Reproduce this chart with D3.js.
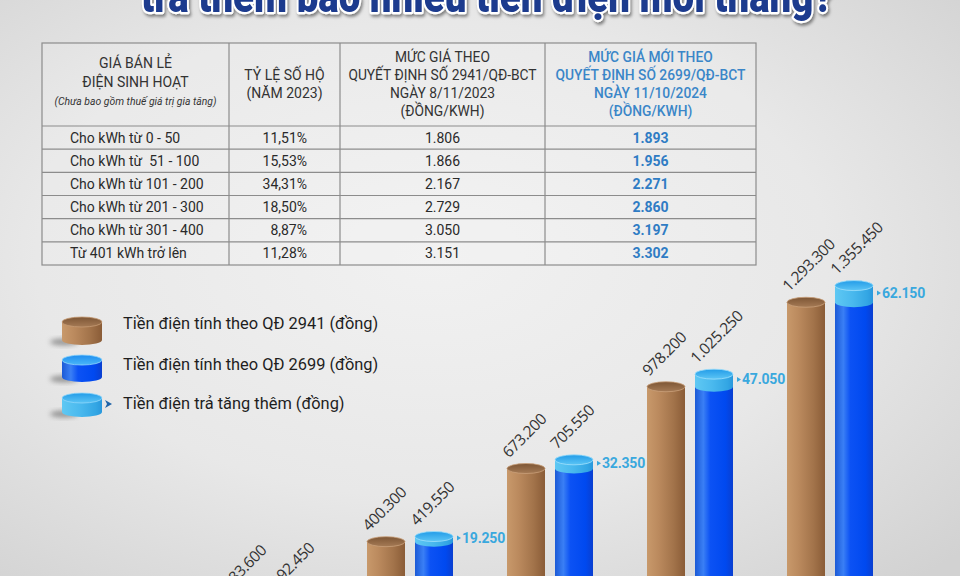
<!DOCTYPE html>
<html><head><meta charset="utf-8">
<script src="https://cdn.jsdelivr.net/npm/d3@7/dist/d3.min.js"></script>
<style>html,body{margin:0;padding:0;background:#e6e6e6;}svg{display:block;}</style>
</head><body>
<script>
// ---------- DATA ----------
const titleText = "trả thêm bao nhiêu tiền điện mỗi tháng?";
const categories = ["100 kWh", "200 kWh", "300 kWh", "400 kWh", "500 kWh"];
const oldValues = [183600, 400300, 673200, 978200, 1293300];
const newValues = [192450, 419550, 705550, 1025250, 1355450];
const increaseValues = [8850, 19250, 32350, 47050, 62150];
const legendLabels = ["Tiền điện tính theo QĐ 2941 (đồng)", "Tiền điện tính theo QĐ 2699 (đồng)", "Tiền điện trả tăng thêm (đồng)"];

const tierLabels = ["Cho kWh từ 0 - 50", "Cho kWh từ \u00a051 - 100", "Cho kWh từ 101 - 200", "Cho kWh từ 201 - 300", "Cho kWh từ 301 - 400", "Từ 401 kWh trở lên"];
const householdShares = ["11,51%", "15,53%", "34,31%", "18,50%", "8,87%", "11,28%"];
const oldPrices = ["1.806", "1.866", "2.167", "2.729", "3.050", "3.151"];
const newPrices = ["1.893", "1.956", "2.271", "2.860", "3.197", "3.302"];
const headerCol1 = ["GIÁ BÁN LẺ", "ĐIỆN SINH HOẠT"];
const headerNote = "(Chưa bao gồm thuế giá trị gia tăng)";
const headerCol2 = ["TỶ LỆ SỐ HỘ", "(NĂM 2023)"];
const headerCol3 = ["MỨC GIÁ THEO", "QUYẾT ĐỊNH SỐ 2941/QĐ-BCT", "NGÀY 8/11/2023", "(ĐỒNG/KWH)"];
const headerCol4 = ["MỨC GIÁ MỚI THEO", "QUYẾT ĐỊNH SỐ 2699/QĐ-BCT", "NGÀY 11/10/2024", "(ĐỒNG/KWH)"];

// ---------- SETUP ----------
const W = 960, H = 576;
const vn = d3.formatLocale({decimal: ",", thousands: ".", grouping: [3], currency: ["", ""]});
const fmt = vn.format(",d");

const svg = d3.select("body").append("svg").attr("width", W).attr("height", H);
const defs = svg.append("defs");

function linGrad(id, stops, horiz = true) {
  const g = defs.append("linearGradient").attr("id", id)
    .attr("x1", 0).attr("y1", 0).attr("x2", horiz ? 1 : 0).attr("y2", horiz ? 0 : 1);
  stops.forEach(([o, c]) => g.append("stop").attr("offset", o).attr("stop-color", c));
}
const bg = defs.append("radialGradient").attr("id", "bg").attr("cx", "0.45").attr("cy", "0.45").attr("r", "0.75");
[["0", "#f1f1f1"], ["0.55", "#e8e8e8"], ["1", "#d2d2d2"]].forEach(([o, c]) => bg.append("stop").attr("offset", o).attr("stop-color", c));
linGrad("brownBody", [["0", "#c8996b"], ["0.3", "#bb8a5e"], ["0.7", "#a2734a"], ["1", "#8a5c37"]]);
linGrad("brownTop", [["0", "#7d5635"], ["1", "#a57a55"]], false);
linGrad("blueBody", [["0", "#1b5ad6"], ["0.22", "#3a7ff5"], ["0.4", "#0c52f4"], ["0.8", "#0049f0"], ["1", "#0a3fd0"]]);
linGrad("capBody", [["0", "#5fc8f3"], ["0.45", "#4ab9ee"], ["0.85", "#33a6e4"], ["1", "#2a98dc"]]);
linGrad("capTop", [["0", "#239ce8"], ["1", "#5cc5f5"]], false);
linGrad("legBlueTop", [["0", "#1f8ef0"], ["1", "#4ab6f8"]], false);

const shadow = defs.append("filter").attr("id", "blur").attr("x", "-50%").attr("y", "-50%").attr("width", "200%").attr("height", "200%");
shadow.append("feGaussianBlur").attr("stdDeviation", 2.5);
const tshadow = defs.append("filter").attr("id", "tshadow").attr("x", "-10%").attr("y", "-50%").attr("width", "120%").attr("height", "200%");
tshadow.append("feDropShadow").attr("dx", 1.5).attr("dy", 2.5).attr("stdDeviation", 1.5).attr("flood-color", "#000").attr("flood-opacity", 0.45);

svg.append("rect").attr("width", W).attr("height", H).attr("fill", "url(#bg)");

// ---------- TITLE ----------
svg.append("text").attr("x", 487).attr("y", 12).attr("text-anchor", "middle")
  .attr("font-family", "Roboto, 'DejaVu Sans Condensed', sans-serif").attr("font-weight", 900)
  .attr("font-size", 46).attr("textLength", 692).attr("lengthAdjust", "spacingAndGlyphs")
  .attr("fill", "#1a3a8e").attr("stroke", "#ffffff").attr("stroke-width", 4.5)
  .attr("paint-order", "stroke").attr("stroke-linejoin", "round")
  .attr("filter", "url(#tshadow)").text(titleText);

// ---------- TABLE ----------
const colX = [42, 229, 340, 545, 756];
const headTop = 43, headBot = 126, tableBot = 265;
const rowY = d3.scaleBand().domain(d3.range(tierLabels.length)).range([headBot, tableBot]);
const table = svg.append("g").attr("font-family", "Roboto, 'Noto Sans', sans-serif");
table.append("rect").attr("x", colX[0]).attr("y", headTop).attr("width", colX[4] - colX[0]).attr("height", tableBot - headTop)
  .attr("fill", "#ffffff").attr("fill-opacity", 0.12).attr("stroke", "#8c8c8c").attr("stroke-width", 1.2);
table.selectAll("line.v").data(colX.slice(1, 4)).join("line")
  .attr("x1", d => d).attr("x2", d => d).attr("y1", headTop).attr("y2", tableBot)
  .attr("stroke", "#8c8c8c").attr("stroke-width", 1.2);
table.selectAll("line.h").data(d3.range(tierLabels.length)).join("line")
  .attr("x1", colX[0]).attr("x2", colX[4]).attr("y1", d => rowY(d)).attr("y2", d => rowY(d))
  .attr("stroke", "#8c8c8c").attr("stroke-width", 1.2);

function headLines(lines, cx, ys, color, weight, size) {
  table.selectAll(null).data(lines).join("text")
    .attr("x", cx).attr("y", (d, i) => ys[i]).attr("text-anchor", "middle").attr("dominant-baseline", "central")
    .attr("font-size", size).attr("fill", color).attr("font-weight", weight).text(d => d);
}
headLines(headerCol1, (colX[0] + colX[1]) / 2, [63, 82], "#333", 400, 14);
table.append("text").attr("x", (colX[0] + colX[1]) / 2).attr("y", 101).attr("text-anchor", "middle")
  .attr("dominant-baseline", "central").attr("font-size", 10.5).attr("font-style", "italic")
  .attr("fill", "#333").attr("textLength", 162).attr("lengthAdjust", "spacingAndGlyphs").text(headerNote);
headLines(headerCol2, (colX[1] + colX[2]) / 2, [75, 93], "#333", 400, 14);
headLines(headerCol3, (colX[2] + colX[3]) / 2, [57, 75, 93, 111], "#333", 400, 13.8);
headLines(headerCol4, (colX[3] + colX[4]) / 2, [57, 75, 93, 111], "#3a86c8", 500, 13.8);

const rowMid = i => rowY(i) + rowY.bandwidth() / 2;
table.selectAll(null).data(tierLabels).join("text").attr("x", 70).attr("y", (d, i) => rowMid(i))
  .attr("dominant-baseline", "central").attr("font-size", 14).attr("fill", "#2a2a2a").text(d => d);
table.selectAll(null).data(householdShares).join("text").attr("x", 307).attr("y", (d, i) => rowMid(i))
  .attr("text-anchor", "end").attr("dominant-baseline", "central").attr("font-size", 14).attr("fill", "#2a2a2a").text(d => d);
table.selectAll(null).data(oldPrices).join("text").attr("x", (colX[2] + colX[3]) / 2).attr("y", (d, i) => rowMid(i))
  .attr("text-anchor", "middle").attr("dominant-baseline", "central").attr("font-size", 14).attr("fill", "#2a2a2a").text(d => d);
table.selectAll(null).data(newPrices).join("text").attr("x", (colX[3] + colX[4]) / 2).attr("y", (d, i) => rowMid(i))
  .attr("text-anchor", "middle").attr("dominant-baseline", "central").attr("font-size", 14).attr("font-weight", 700)
  .attr("fill", "#2f7cc4").text(d => d);

// ---------- LEGEND ----------
const legend = svg.append("g");
const legY = [317, 355, 393];
const legH = [18, 17, 14];
const legBody = ["url(#brownBody)", "url(#blueBody)", "url(#capBody)"];
const legTop = ["url(#brownTop)", "url(#legBlueTop)", "url(#capTop)"];
const LW = 40, LRY = 5, LX = 62;
legendLabels.forEach((lab, i) => {
  const top = legY[i] + LRY, bot = top + legH[i];
  legend.append("ellipse").attr("cx", LX + 2).attr("cy", bot + 2).attr("rx", 14).attr("ry", 3.5)
    .attr("fill", "#555").attr("opacity", 0.55).attr("filter", "url(#blur)");
  legend.append("path")
    .attr("d", `M${LX},${top} L${LX},${bot} A${LW / 2},${LRY} 0 0 0 ${LX + LW},${bot} L${LX + LW},${top} Z`)
    .attr("fill", legBody[i]);
  legend.append("ellipse").attr("cx", LX + LW / 2).attr("cy", top).attr("rx", LW / 2).attr("ry", LRY)
    .attr("fill", legTop[i]).attr("stroke", i === 0 ? "#c59b73" : "#8fd6fa").attr("stroke-width", 0.8);
  legend.append("text").attr("x", 123).attr("y", [323, 364, 403][i]).attr("dominant-baseline", "central")
    .attr("font-family", "Roboto, 'Noto Sans', sans-serif").attr("font-size", 16.4).attr("fill", "#1e1e1e").text(lab);
});
legend.append("path").attr("d", "M105,400 L112,404 L105,408 L107,404 Z").attr("fill", "#1f63a8");

// ---------- BARS ----------
const x0 = d3.scaleBand().domain(categories).range([207, 907]);
const x1 = d3.scaleBand().domain(["old", "new"]).range([20, 106]).paddingInner(0.2083);
const y = d3.scaleLinear().domain([0, 1355450]).range([644, 280.6]);
const bw = x1.bandwidth(), RY = 5, base = y(0);

const rows = categories.map((c, i) => ({c, oldV: oldValues[i], newV: newValues[i], inc: increaseValues[i]}));
const grp = svg.append("g").selectAll("g").data(rows).join("g").attr("transform", d => `translate(${x0(d.c)},0)`);

// brown cylinders
grp.append("rect").attr("x", x1("old")).attr("width", bw)
  .attr("y", d => y(d.oldV) + RY).attr("height", d => base - y(d.oldV) - RY).attr("fill", "url(#brownBody)");
grp.append("ellipse").attr("cx", x1("old") + bw / 2).attr("cy", d => y(d.oldV) + RY).attr("rx", bw / 2).attr("ry", RY)
  .attr("fill", "url(#brownTop)").attr("stroke", "#c9a07a").attr("stroke-width", 0.8);

// blue cylinders
grp.append("rect").attr("x", x1("new")).attr("width", bw)
  .attr("y", d => y(d.newV) + RY).attr("height", d => base - y(d.newV) - RY).attr("fill", "url(#blueBody)");
// light-blue cap = increase
grp.append("path").attr("fill", "url(#capBody)").attr("d", d => {
  const xl = x1("new"), xr = xl + bw, t = y(d.newV) + RY, b = y(d.newV) + RY + (y(d.oldV) - y(d.newV));
  return `M${xl},${t} L${xl},${b} A${bw / 2},${RY} 0 0 0 ${xr},${b} L${xr},${t} Z`;
});
grp.append("ellipse").attr("cx", x1("new") + bw / 2).attr("cy", d => y(d.newV) + RY).attr("rx", bw / 2).attr("ry", RY)
  .attr("fill", "url(#capTop)").attr("stroke", "#9fdffb").attr("stroke-width", 0.8);

// rotated value labels
const lblFont = "'Open Sans', 'DejaVu Sans', sans-serif";
grp.append("text").attr("transform", d => `translate(${x1("old") + 2},${y(d.oldV) - 5}) rotate(-45)`)
  .attr("font-family", lblFont).attr("font-size", 15.5).attr("fill", "#333").attr("letter-spacing", -0.4)
  .text(d => fmt(d.oldV));
grp.append("text").attr("transform", d => `translate(${x1("new") + 2},${y(d.newV) - 5}) rotate(-45)`)
  .attr("font-family", lblFont).attr("font-size", 15.5).attr("fill", "#333").attr("letter-spacing", -0.4)
  .text(d => fmt(d.newV));

// increase labels
const incY = d => y(d.newV) + (y(d.oldV) - y(d.newV)) / 2 + 4;
grp.append("path").attr("fill", "#3aa8de")
  .attr("d", d => { const xx = x1("new") + bw + 4, yy = incY(d); return `M${xx},${yy - 2.5} L${xx + 4},${yy} L${xx},${yy + 2.5} Z`; });
grp.append("text").attr("x", x1("new") + bw + 9).attr("y", incY).attr("dominant-baseline", "central")
  .attr("font-family", "Roboto, sans-serif").attr("font-weight", 700).attr("font-size", 14).attr("letter-spacing", -0.2)
  .attr("fill", "#3aa8de").text(d => fmt(d.inc));
</script>
</body></html>
